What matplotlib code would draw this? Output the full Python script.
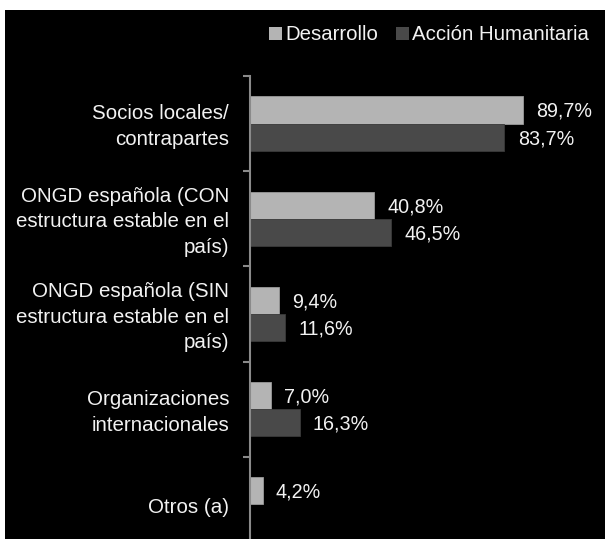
import matplotlib
matplotlib.use("Agg")
import matplotlib.pyplot as plt
from matplotlib.patches import Rectangle, Patch
import numpy as np

categories = [
    "Socios locales/\ncontrapartes",
    "ONGD española (CON\nestructura estable en el\npaís)",
    "ONGD española (SIN\nestructura estable en el\npaís)",
    "Organizaciones\ninternacionales",
    "Otros (a)",
]
desarrollo = [89.7, 40.8, 9.4, 7.0, 4.2]
humanitaria = [83.7, 46.5, 11.6, 16.3, None]
series_names = ["Desarrollo", "Acción Humanitaria"]
value_labels_des = ["89,7%", "40,8%", "9,4%", "7,0%", "4,2%"]
value_labels_hum = ["83,7%", "46,5%", "11,6%", "16,3%", None]

plt.rcParams['font.family'] = ['Liberation Sans', 'DejaVu Sans']

W, H = 605, 539
fig = plt.figure(figsize=(W / 100, H / 100), dpi=100)
fig.patch.set_facecolor('white')
fig.patches.append(Rectangle((5 / W, 0), 1 - 5 / W, 1 - 10 / H, transform=fig.transFigure,
                             facecolor='black', edgecolor='none', zorder=-10))

c_light = '#b4b4b4'
c_dark = '#494949'
txt = '#f2f2f2'
fs = 14.2
fs_cat = 14.8

left_px, top_px, bottom_px = 250, 76, 552
ax = fig.add_axes([left_px / W, 1 - bottom_px / H, 304 / W, (bottom_px - top_px) / H])
ax.set_facecolor('none')
ax.set_zorder(1)
ax.set_xlim(0, 100)
ax.set_ylim(4.5, -0.5)

y = np.arange(len(categories))
bh = 0.285
ax.barh(y - bh / 2, desarrollo, height=bh, color=c_light, edgecolor='#9a9a9a', linewidth=0.6)
hum_y = [yy + bh / 2 for yy, v in zip(y, humanitaria) if v is not None]
ax.barh(hum_y, [v for v in humanitaria if v is not None], height=bh, color=c_dark,
        edgecolor='#3a3a3a', linewidth=0.6)

for yy, v, lab in zip(y, desarrollo, value_labels_des):
    ax.annotate(lab, (v, yy - bh / 2), xytext=(9.5, -1), textcoords='offset points',
                ha='left', va='center', color=txt, fontsize=fs)
for yy, v, lab in zip(y, humanitaria, value_labels_hum):
    if v is None:
        continue
    ax.annotate(lab, (v, yy + bh / 2), xytext=(9.5, -1), textcoords='offset points',
                ha='left', va='center', color=txt, fontsize=fs)

for s in ['top', 'right', 'bottom']:
    ax.spines[s].set_visible(False)
ax.spines['left'].set_color('#8a8a8a')
ax.spines['left'].set_linewidth(1.5)
ax.set_xticks([])
ax.set_yticks(np.arange(-0.5, 5, 1.0))
ax.set_yticklabels([])
ax.tick_params(axis='y', which='major', length=5, width=1.5, color='#8a8a8a', direction='out')

for yy, cat in zip(y, categories):
    ax.annotate(cat, (0, yy), xytext=(-15, -2.2), textcoords='offset points',
                ha='right', va='center', ma='right', color=txt, fontsize=fs_cat,
                linespacing=1.45, annotation_clip=False)

handles = [Patch(facecolor=c_light, edgecolor='none'), Patch(facecolor=c_dark, edgecolor='none')]
leg = fig.legend(handles, series_names, loc='center', bbox_to_anchor=(429 / W, 1 - 35 / H),
                 ncol=2, frameon=False, fontsize=14.7, handlelength=0.65, handleheight=0.65,
                 handletextpad=0.15, columnspacing=0.85, borderpad=0, borderaxespad=0)
for t in leg.get_texts():
    t.set_color(txt)

fig.savefig('out.png', dpi=100, facecolor=fig.get_facecolor())
